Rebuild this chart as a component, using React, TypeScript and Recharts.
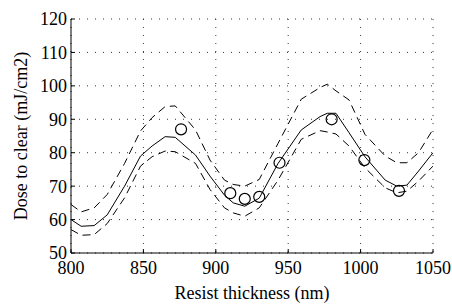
import React from 'react';
import { ComposedChart, Line, Scatter, XAxis, YAxis, CartesianGrid } from 'recharts';

const thickness = [800, 807, 816, 825, 837, 848, 856, 865, 872, 886, 896, 906, 912, 920, 930, 943, 959, 972, 977, 983, 992, 1003, 1017, 1025, 1032, 1040, 1050];
const fitDose = [60, 58, 58.2, 61.4, 70, 79, 82, 84.8, 84.6, 79.3, 73, 67.3, 65, 64, 66.4, 76.8, 86.8, 90.8, 91.8, 91.8, 86, 78.8, 71.8, 70, 70.3, 74.5, 80];
const upperDose = [64.5, 62.3, 63.5, 67.5, 76.8, 86.5, 90.5, 93.8, 94, 86.8, 77.8, 71.8, 70.5, 70, 72, 82.8, 96, 99.5, 100.5, 98.5, 95.8, 85.5, 79, 77, 77, 80, 87];
const lowerDose = [57, 55.3, 55.5, 58.8, 66.5, 76, 78.8, 80.5, 80.3, 76.8, 69, 63.5, 62, 61, 63.5, 71.8, 84, 86.6, 86.2, 85.6, 82, 75.5, 69.5, 68, 68.5, 71.5, 76];

const measThickness = [876, 910, 920, 930, 944, 980, 1002.6, 1026.5];
const measDose = [87, 67.9, 66.2, 66.8, 77, 90, 77.8, 68.6];

const xTicks = [800, 850, 900, 950, 1000, 1050];
const yTicks = [50, 60, 70, 80, 90, 100, 110, 120];

const lineData = thickness.map((x, i) => ({ x, fit: fitDose[i], upper: upperDose[i], lower: lowerDose[i] }));
const measData = measThickness.map((x, i) => ({ x, y: measDose[i] }));

const FONT = 'Liberation Serif, Times New Roman, serif';
const tickStyle = { fontFamily: FONT, fontSize: 18, fill: '#000' };

const YLabel = (props: any) => {
  const vb = props.viewBox || { x: 0, y: 19, width: 71, height: 234 };
  const cx = vb.x + 26.5;
  const cy = vb.y + vb.height / 2;
  return (
    <text x={cx} y={cy} transform={`rotate(-90 ${cx} ${cy})`} textAnchor="middle" fontFamily={FONT} fontSize={18} fill="#000">
      Dose to clear (mJ/cm2)
    </text>
  );
};

const XLabel = (props: any) => {
  const vb = props.viewBox || { x: 71, y: 253, width: 362, height: 52 };
  const cx = vb.x + vb.width / 2;
  const cy = vb.y + 46;
  return (
    <text x={cx} y={cy} textAnchor="middle" fontFamily={FONT} fontSize={18} fill="#000">
      Resist thickness (nm)
    </text>
  );
};

const Ring = (p: any) => (
  <circle cx={p.cx} cy={p.cy} r={5.5} fill="none" stroke="#000" strokeWidth={1.2} />
);

export default function App() {
  return (
    <div style={{ position: 'absolute', left: 0, top: 0, width: 452, height: 305, background: '#fff' }}>
      <ComposedChart width={452} height={305} data={lineData} margin={{ top: 19, right: 19, bottom: 0, left: 0 }}>
        <CartesianGrid stroke="#333" strokeDasharray="1 7" strokeWidth={1} verticalPoints={undefined} />
        <XAxis
          dataKey="x"
          type="number"
          domain={[800, 1050]}
          ticks={xTicks}
          allowDataOverflow
          height={52}
          tickSize={-4}
          tickMargin={12}
          tick={tickStyle}
          axisLine={{ stroke: '#000' }}
          tickLine={{ stroke: '#000' }}
          label={<XLabel />}
        />
        <XAxis
          xAxisId="top"
          dataKey="x"
          type="number"
          orientation="top"
          mirror
          domain={[800, 1050]}
          ticks={xTicks}
          allowDataOverflow
          height={0}
          tick={false}
          tickSize={4}
          axisLine={{ stroke: '#000' }}
          tickLine={{ stroke: '#000' }}
        />
        <YAxis
          dataKey="y"
          type="number"
          domain={[50, 120]}
          ticks={yTicks}
          allowDataOverflow
          width={71}
          tickSize={-4}
          tickMargin={8}
          tick={tickStyle}
          axisLine={{ stroke: '#000' }}
          tickLine={{ stroke: '#000' }}
          label={<YLabel />}
        />
        <YAxis
          yAxisId="right"
          dataKey="y"
          type="number"
          orientation="right"
          mirror
          domain={[50, 120]}
          ticks={yTicks}
          allowDataOverflow
          width={0}
          tick={false}
          tickSize={4}
          axisLine={{ stroke: '#000' }}
          tickLine={{ stroke: '#000' }}
        />
        <Line dataKey="upper" type="linear" stroke="#000" strokeWidth={1} strokeDasharray="8 5" dot={false} isAnimationActive={false} />
        <Line dataKey="lower" type="linear" stroke="#000" strokeWidth={1} strokeDasharray="8 5" dot={false} isAnimationActive={false} />
        <Line dataKey="fit" type="linear" stroke="#000" strokeWidth={1} dot={false} isAnimationActive={false} />
        <Scatter data={measData} dataKey="y" shape={Ring} isAnimationActive={false} />
      </ComposedChart>
    </div>
  );
}
